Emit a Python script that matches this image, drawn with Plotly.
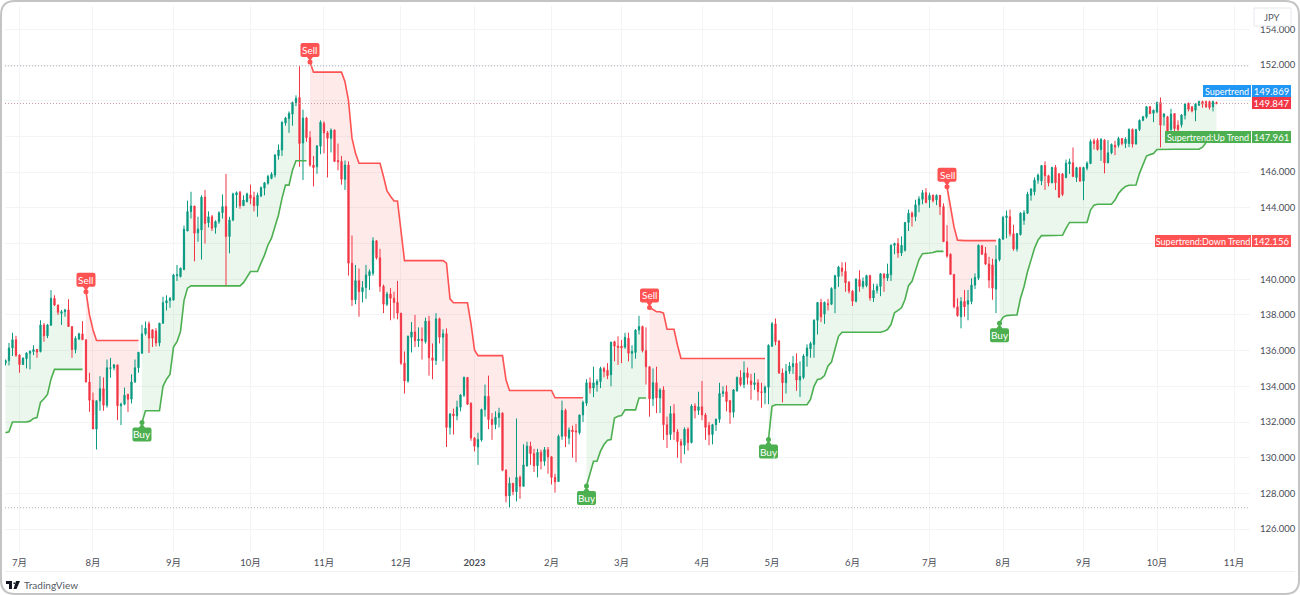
import plotly.graph_objects as go

# -----------------------------
# Data: USD/JPY daily bars
# -----------------------------
opens = [
    135.30, 135.44, 136.15, 136.61, 135.75, 135.22, 135.55, 135.85, 135.95, 136.06,
    135.95, 137.44, 136.83, 137.42, 138.93, 138.56, 138.09, 138.18, 138.28, 137.35,
    136.06, 136.65, 136.94, 136.61, 134.24, 133.22, 131.61, 133.19, 133.87, 132.94,
    135.00, 135.04, 135.20, 132.91, 133.00, 133.56, 133.28, 134.24, 135.04, 135.85,
    136.94, 137.50, 137.17, 137.10, 136.43, 137.54, 138.67, 138.80, 138.84, 140.20,
    140.15, 140.55, 142.70, 143.79, 144.10, 142.60, 142.76, 144.60, 143.17, 143.50,
    142.90, 143.23, 143.73, 144.07, 142.39, 143.32, 144.72, 144.87, 144.12, 144.35,
    144.72, 144.59, 144.12, 144.66, 145.10, 145.38, 145.65, 145.84, 146.92, 147.24,
    148.75, 149.00, 149.25, 149.89, 150.18, 147.63, 149.03, 147.93, 146.40, 146.30,
    147.45, 148.73, 148.20, 147.89, 148.35, 146.65, 146.60, 145.60, 146.40, 140.90,
    138.85, 139.92, 139.30, 139.53, 140.20, 140.33, 142.15, 141.20, 139.60, 138.60,
    139.17, 138.93, 138.70, 138.10, 135.30, 134.30, 136.75, 137.05, 136.55, 136.65,
    136.50, 137.65, 135.60, 135.45, 137.78, 136.75, 136.95, 131.70, 132.45, 132.35,
    132.83, 133.50, 134.50, 133.05, 131.10, 130.60, 131.00, 132.70, 133.44, 132.14,
    131.86, 132.25, 132.50, 129.30, 127.86, 128.57, 128.10, 128.90, 128.40, 129.55,
    130.65, 130.23, 129.55, 130.30, 129.80, 130.45, 130.05, 128.90, 128.67, 131.20,
    132.65, 131.10, 131.55, 131.50, 131.40, 132.40, 133.05, 134.20, 133.90, 134.10,
    134.27, 135.00, 134.90, 134.65, 136.50, 136.25, 136.25, 136.20, 136.70, 135.85,
    135.90, 137.15, 137.35, 136.00, 135.10, 133.30, 134.20, 133.35, 133.80, 131.85,
    131.30, 132.47, 131.45, 130.90, 130.70, 131.60, 130.85, 132.90, 132.65, 132.85,
    132.40, 131.80, 131.30, 131.85, 132.15, 133.60, 133.70, 133.20, 132.55, 133.75,
    134.50, 134.10, 134.75, 134.30, 134.10, 134.20, 133.70, 133.65, 133.95, 136.25,
    137.50, 136.55, 134.75, 134.20, 134.85, 135.10, 135.30, 134.35, 134.50, 135.70,
    136.10, 136.35, 137.70, 138.70, 138.05, 138.63, 138.60, 139.48, 140.15, 140.63,
    140.44, 139.83, 139.33, 138.77, 139.98, 139.60, 139.65, 140.20, 138.95, 139.38,
    139.60, 140.30, 140.07, 140.25, 141.90, 142.00, 141.47, 141.62, 143.18, 143.70,
    143.50, 144.17, 144.48, 144.85, 144.45, 144.70, 144.45, 144.70, 144.07, 142.10,
    141.40, 140.27, 138.46, 137.90, 138.75, 138.60, 138.75, 139.67, 140.05, 141.87,
    141.45, 140.85, 140.80, 139.45, 141.10, 142.25, 143.45, 143.50, 142.55, 141.70,
    142.50, 143.30, 143.70, 144.70, 144.90, 145.55, 145.50, 146.37, 145.80, 145.40,
    146.26, 145.90, 145.90, 145.70, 146.45, 146.52, 145.70, 146.25, 145.50, 146.22,
    146.48, 147.75, 147.79, 147.27, 147.79, 146.52, 147.08, 147.50, 147.50, 147.88,
    147.60, 147.60, 148.39, 147.57, 148.39, 148.90, 149.10, 149.66, 149.30, 149.38,
    149.90, 149.10, 149.10, 148.39, 149.28, 148.63, 148.65, 149.19, 149.85, 149.66,
    149.47, 149.75, 149.95, 149.95, 149.95, 149.66, 149.90,
]
highs = [
    135.50, 136.43, 137.00, 136.83, 135.80, 135.60, 135.90, 136.02, 136.30, 136.10,
    137.70, 137.54, 137.50, 139.39, 139.10, 138.56, 138.28, 138.34, 138.88, 137.35,
    136.80, 137.00, 137.65, 136.61, 134.76, 133.65, 133.19, 134.57, 134.50, 135.50,
    135.59, 135.25, 135.20, 133.09, 133.93, 133.56, 134.67, 135.50, 135.91, 137.44,
    137.63, 137.63, 137.17, 137.26, 137.54, 139.02, 139.10, 139.00, 140.30, 140.80,
    140.65, 143.00, 144.40, 144.90, 144.10, 143.50, 144.70, 145.00, 143.80, 143.60,
    143.30, 143.80, 144.75, 145.90, 143.50, 144.85, 144.92, 144.95, 144.70, 144.85,
    145.30, 144.90, 144.85, 145.20, 145.45, 145.85, 146.00, 147.00, 147.55, 148.85,
    149.10, 149.40, 149.95, 150.30, 151.95, 149.50, 149.10, 148.30, 146.90, 147.50,
    148.90, 148.85, 148.30, 148.45, 148.40, 147.60, 146.90, 146.65, 146.60, 142.45,
    140.80, 140.60, 139.90, 140.80, 140.55, 142.35, 142.20, 141.70, 139.70, 139.30,
    139.50, 139.30, 139.90, 138.10, 135.95, 136.85, 137.60, 138.00, 137.30, 137.30,
    137.85, 137.95, 136.40, 138.10, 137.85, 137.20, 137.25, 132.50, 132.75, 133.20,
    133.55, 134.55, 134.50, 133.10, 131.15, 131.40, 132.75, 134.10, 134.60, 132.50,
    132.60, 132.80, 132.55, 129.35, 128.90, 128.57, 132.20, 129.00, 130.75, 130.90,
    130.90, 130.50, 130.50, 130.45, 130.60, 130.60, 130.10, 129.10, 131.30, 133.20,
    132.75, 131.70, 131.80, 131.90, 132.40, 133.20, 134.40, 134.50, 135.10, 134.40,
    135.10, 135.10, 135.30, 136.50, 136.55, 136.80, 136.60, 137.00, 137.00, 136.30,
    137.20, 137.95, 137.40, 137.30, 135.10, 135.00, 135.10, 133.90, 134.00, 132.30,
    132.90, 133.00, 131.60, 131.05, 131.70, 131.70, 133.00, 133.05, 133.70, 134.30,
    132.50, 132.00, 131.90, 132.20, 134.20, 134.00, 134.05, 133.20, 133.85, 134.55,
    134.90, 135.40, 135.05, 134.70, 134.75, 134.40, 134.20, 134.05, 136.35, 137.60,
    137.80, 136.55, 135.00, 135.25, 135.35, 135.70, 135.85, 135.40, 135.80, 136.35,
    136.50, 137.75, 138.72, 138.90, 138.75, 138.90, 139.55, 140.25, 140.75, 140.95,
    140.95, 139.90, 139.40, 140.05, 140.50, 140.10, 140.25, 140.25, 139.75, 139.75,
    140.35, 140.30, 140.87, 141.95, 142.05, 142.30, 142.40, 143.20, 143.90, 143.80,
    144.45, 144.65, 145.00, 145.10, 144.85, 144.75, 144.75, 144.70, 144.25, 143.03,
    141.45, 140.27, 138.93, 139.00, 139.40, 139.40, 140.05, 140.33, 141.95, 141.92,
    141.80, 141.25, 141.15, 141.90, 142.30, 143.55, 143.85, 143.90, 143.05, 142.60,
    143.75, 143.87, 144.90, 145.10, 145.70, 145.92, 146.40, 146.60, 145.85, 146.30,
    146.40, 145.95, 145.95, 146.70, 146.75, 147.38, 146.30, 146.30, 146.30, 146.60,
    147.83, 147.88, 147.90, 147.90, 147.85, 147.79, 147.60, 147.75, 147.98, 147.90,
    147.95, 148.45, 148.45, 148.42, 148.95, 149.15, 149.70, 149.70, 149.50, 149.95,
    150.18, 149.30, 149.15, 149.55, 149.30, 148.90, 149.25, 149.85, 149.90, 149.70,
    149.85, 150.00, 150.00, 150.00, 150.00, 150.00, 149.95,
]
lows = [
    135.17, 135.17, 135.70, 135.65, 134.76, 135.22, 135.00, 134.95, 135.75, 135.60,
    135.90, 136.50, 136.70, 137.40, 138.50, 138.00, 137.44, 137.90, 137.35, 135.60,
    135.85, 136.60, 136.60, 134.24, 132.57, 131.61, 130.46, 132.63, 132.63, 132.81,
    134.48, 134.90, 132.11, 131.83, 132.94, 132.57, 133.04, 134.20, 134.76, 135.83,
    136.85, 135.87, 136.20, 136.24, 136.24, 137.50, 138.25, 138.40, 138.80, 139.90,
    140.10, 140.50, 142.70, 143.40, 141.00, 142.10, 141.10, 142.00, 142.90, 142.70,
    142.55, 143.10, 143.40, 139.60, 141.45, 143.25, 144.00, 143.95, 144.10, 144.30,
    144.20, 143.80, 143.50, 144.60, 144.70, 145.30, 145.60, 145.70, 146.70, 146.90,
    148.60, 148.20, 148.60, 149.70, 146.30, 145.56, 147.70, 146.30, 145.20, 145.90,
    147.00, 147.05, 145.70, 147.10, 146.58, 146.10, 145.30, 145.00, 140.20, 138.50,
    138.60, 137.90, 138.70, 138.90, 139.40, 140.20, 141.10, 139.30, 138.10, 138.50,
    137.70, 137.80, 137.75, 135.20, 133.60, 134.20, 135.90, 136.20, 136.20, 135.50,
    136.40, 134.60, 134.40, 135.20, 136.40, 135.40, 130.60, 131.30, 131.30, 132.10,
    132.60, 133.40, 132.95, 130.95, 130.35, 129.60, 130.90, 132.30, 131.60, 131.00,
    131.60, 131.70, 129.25, 127.50, 127.20, 127.90, 127.55, 127.70, 128.40, 129.50,
    129.60, 129.20, 128.90, 129.35, 129.55, 129.10, 128.50, 128.05, 128.65, 131.00,
    130.60, 130.75, 130.00, 129.75, 131.30, 132.00, 132.90, 133.60, 133.40, 133.70,
    133.90, 134.50, 134.40, 134.00, 135.40, 135.20, 135.30, 136.10, 135.40, 135.00,
    135.55, 136.90, 135.90, 134.10, 132.30, 132.90, 132.50, 132.50, 131.00, 130.55,
    131.00, 131.00, 130.00, 129.70, 130.20, 130.40, 130.80, 132.20, 132.40, 132.10,
    131.00, 130.70, 130.75, 131.50, 131.95, 133.40, 132.60, 131.90, 132.25, 133.70,
    134.00, 133.90, 134.10, 133.25, 133.80, 133.20, 132.80, 133.00, 133.00, 136.20,
    136.30, 134.70, 133.10, 133.60, 134.70, 134.70, 133.75, 133.40, 134.40, 135.10,
    135.60, 135.60, 136.90, 137.60, 137.50, 138.25, 138.55, 138.10, 139.57, 140.16,
    139.30, 139.20, 138.50, 138.70, 139.30, 139.47, 139.55, 138.80, 138.73, 139.20,
    139.05, 139.30, 139.90, 139.90, 141.40, 141.20, 141.30, 141.55, 142.70, 142.95,
    143.25, 143.75, 144.20, 144.25, 144.00, 144.30, 144.15, 143.60, 142.10, 141.20,
    140.25, 138.37, 137.90, 137.25, 137.90, 137.70, 138.60, 139.45, 139.95, 141.35,
    140.80, 139.50, 138.85, 138.10, 141.00, 142.20, 142.30, 142.40, 141.60, 141.55,
    142.45, 143.05, 143.65, 144.40, 144.70, 145.35, 145.27, 145.00, 145.20, 145.38,
    145.00, 144.55, 144.65, 145.65, 145.90, 145.75, 145.45, 145.45, 144.43, 146.10,
    146.45, 147.27, 147.20, 146.63, 145.93, 146.50, 147.00, 146.95, 147.38, 147.50,
    147.35, 147.40, 147.38, 147.55, 148.30, 148.85, 149.00, 149.25, 148.80, 149.30,
    147.38, 148.60, 148.20, 148.30, 148.30, 148.00, 148.50, 148.95, 149.40, 149.35,
    148.85, 149.70, 149.60, 149.60, 149.50, 149.40, 149.80,
]
closes = [
    135.45, 136.15, 136.61, 135.74, 135.22, 135.59, 135.87, 135.96, 136.06, 135.92,
    137.44, 136.83, 137.44, 138.93, 138.56, 138.15, 138.18, 138.28, 137.35, 136.06,
    136.69, 136.94, 136.61, 134.24, 133.22, 131.61, 133.19, 133.87, 132.94, 135.04,
    135.04, 135.20, 132.91, 133.00, 133.50, 133.28, 134.24, 135.04, 135.91, 136.94,
    137.26, 136.70, 136.70, 136.43, 137.54, 138.69, 138.80, 138.93, 140.24, 140.25,
    140.62, 142.80, 143.79, 144.10, 142.57, 142.80, 144.60, 143.13, 143.50, 142.85,
    143.23, 143.73, 144.07, 142.39, 143.32, 144.78, 144.85, 144.12, 144.44, 144.78,
    144.53, 144.12, 144.70, 145.13, 145.40, 145.75, 145.88, 146.96, 147.24, 148.79,
    149.03, 149.29, 149.90, 150.13, 147.60, 149.03, 147.93, 146.40, 146.25, 147.47,
    148.79, 148.20, 147.89, 148.35, 146.60, 146.58, 145.60, 146.40, 140.90, 138.85,
    139.92, 139.30, 139.53, 140.24, 140.43, 142.15, 141.20, 139.60, 138.60, 139.17,
    138.93, 138.70, 138.10, 135.30, 134.30, 136.80, 137.05, 136.55, 136.65, 136.55,
    137.65, 135.60, 135.45, 137.78, 136.75, 136.95, 131.70, 132.45, 132.35, 132.83,
    133.52, 134.50, 133.00, 131.10, 130.65, 131.02, 132.70, 133.44, 132.14, 131.86,
    132.27, 132.50, 129.30, 127.86, 128.57, 128.10, 128.90, 128.40, 129.60, 130.65,
    130.23, 129.55, 130.30, 129.80, 130.45, 130.05, 128.90, 128.65, 131.20, 132.65,
    131.20, 131.55, 131.45, 131.45, 132.40, 133.10, 134.20, 133.90, 134.20, 134.27,
    135.00, 134.83, 134.60, 136.47, 136.25, 136.18, 136.15, 136.75, 135.85, 135.95,
    137.15, 137.35, 136.00, 135.10, 133.30, 134.20, 133.35, 133.80, 131.85, 131.30,
    132.47, 131.45, 130.90, 130.70, 131.60, 130.85, 132.90, 132.65, 132.85, 132.40,
    131.70, 131.30, 131.85, 132.15, 133.60, 133.70, 133.15, 132.55, 133.80, 134.50,
    134.10, 134.75, 134.50, 134.10, 134.20, 133.70, 133.65, 133.95, 136.30, 137.50,
    136.50, 134.75, 134.20, 134.85, 135.14, 135.27, 134.35, 134.55, 135.70, 136.15,
    136.40, 137.70, 138.70, 137.90, 138.70, 138.58, 139.48, 140.20, 140.68, 140.44,
    139.80, 139.33, 138.77, 140.00, 139.60, 139.88, 140.20, 138.95, 139.38, 139.60,
    140.30, 140.07, 140.30, 141.90, 142.00, 141.47, 141.90, 143.18, 143.70, 143.50,
    144.17, 144.50, 144.85, 144.30, 144.70, 144.40, 144.70, 144.07, 142.10, 141.30,
    140.27, 138.46, 137.96, 138.75, 138.45, 138.80, 139.67, 140.10, 141.90, 141.40,
    140.85, 139.95, 139.50, 141.10, 142.25, 143.46, 143.55, 142.55, 141.70, 142.55,
    143.70, 143.72, 144.77, 145.05, 145.55, 145.83, 146.37, 145.80, 145.40, 146.26,
    145.40, 144.60, 144.75, 146.50, 146.58, 145.75, 146.25, 145.50, 146.26, 146.50,
    147.72, 147.60, 147.27, 147.83, 146.52, 147.08, 147.55, 147.40, 147.88, 147.60,
    147.85, 148.39, 147.57, 148.39, 148.90, 149.10, 149.66, 149.28, 149.47, 149.90,
    148.63, 149.25, 148.26, 149.25, 148.44, 148.39, 149.19, 149.81, 149.52, 149.43,
    149.81, 149.95, 149.81, 149.66, 149.62, 149.95, 149.85,
]

# Supertrend stretches as (first bar, values)
up_segments = [
    (0, [131.40, 131.45, 132.00, 132.00, 132.00, 132.00, 132.00, 132.05, 132.20, 132.25,
         133.10, 133.30, 133.55, 134.40, 134.95, 134.95, 134.95, 134.95, 134.95, 134.95,
         134.95, 134.95, 134.95]),
    (39, [131.98, 132.63, 132.63, 132.63, 132.63, 132.63, 134.00, 134.40, 134.67, 136.20,
          136.50, 137.07, 138.80, 139.50, 139.63, 139.63, 139.63, 139.63, 139.63, 139.63,
          139.63, 139.63, 139.63, 139.63, 139.63, 139.63, 139.63, 139.63, 139.63, 139.81,
          140.15, 140.43, 140.43, 140.43, 140.90, 141.35, 141.92, 142.30, 142.95, 143.60,
          144.53, 145.27, 145.27, 146.10, 146.64, 146.64, 146.64, 146.64]),
    (166, [128.42, 129.16, 129.80, 129.80, 130.37, 130.74, 130.98, 131.02, 132.23, 132.32,
           132.36, 132.68, 132.68, 132.68, 132.68, 133.35, 133.35, 133.35]),
    (218, [131.02, 132.88, 132.97, 132.97, 132.97, 132.97, 132.97, 132.97, 132.97, 132.97,
           132.97, 132.97, 133.27, 134.00, 134.39, 134.43, 134.60, 135.14, 135.36, 136.07,
           136.80, 137.03, 137.03, 137.03, 137.03, 137.03, 137.03, 137.03, 137.03, 137.03,
           137.03, 137.03, 137.03, 137.08, 137.18, 137.46, 138.12, 138.25, 138.40, 138.86,
           139.64, 139.88, 140.54, 141.10, 141.43, 141.47, 141.47, 141.50, 141.56, 141.56,
           141.56]),
    (284, [137.53, 137.87, 137.96, 138.00, 138.00, 138.00, 138.93, 139.58, 140.42, 141.07,
           141.73, 142.19, 142.44, 142.44, 142.44, 142.44, 142.44, 142.44, 142.46, 142.85,
           143.18, 143.18, 143.18, 143.18, 143.18, 143.18, 143.87, 144.15, 144.20, 144.20,
           144.20, 144.20, 144.20, 144.43, 144.80, 145.03, 145.20, 145.26, 145.26, 145.28,
           145.93, 146.40, 146.90, 146.98, 147.04, 147.27, 147.28, 147.28, 147.28, 147.28,
           147.28, 147.28, 147.28, 147.28, 147.28, 147.28, 147.28, 147.28, 147.40, 147.65,
           147.90, 147.96, 147.96]),
]
down_segments = [
    (23, [139.30, 138.00, 137.17, 136.57, 136.57, 136.57, 136.57, 136.57, 136.57, 136.57,
          136.57, 136.57, 136.57, 136.57, 136.57, 136.57]),
    (87, [152.17, 151.60, 151.60, 151.60, 151.60, 151.60, 151.60, 151.60, 151.60, 151.60,
          151.06, 150.00, 147.90, 147.05, 146.50, 146.50, 146.50, 146.50, 146.50, 146.50,
          146.50, 145.75, 144.95, 144.65, 144.38, 144.38, 142.70, 141.04, 141.04, 141.04,
          141.04, 141.04, 141.04, 141.04, 141.04, 141.04, 141.04, 141.04, 141.04, 140.90,
          138.90, 138.68, 138.68, 138.68, 138.68, 138.68, 137.50, 136.04, 135.72, 135.72,
          135.72, 135.72, 135.72, 135.72, 135.72, 135.72, 134.37, 133.77, 133.77, 133.77,
          133.77, 133.77, 133.77, 133.77, 133.77, 133.77, 133.77, 133.77, 133.77, 133.77,
          133.36, 133.36, 133.36, 133.36, 133.36, 133.36, 133.36, 133.36, 133.36]),
    (184, [138.42, 138.30, 138.18, 138.18, 138.10, 137.20, 137.20, 137.20, 136.30, 135.56,
           135.56, 135.56, 135.56, 135.56, 135.56, 135.56, 135.56, 135.56, 135.56, 135.56,
           135.56, 135.56, 135.56, 135.56, 135.56, 135.56, 135.56, 135.56, 135.56, 135.56,
           135.56, 135.56, 135.56, 135.56]),
    (269, [145.18, 144.00, 142.94, 142.19, 142.16, 142.16, 142.16, 142.16, 142.16, 142.16,
           142.16, 142.16, 142.16, 142.16, 142.16]),
]

month_bars = [4, 25, 48, 70, 91, 113, 134, 156, 176, 199, 219, 242, 264, 285, 308, 329, 351]
month_labels = ["7月", "8月", "9月", "10月", "11月", "12月", "<b>2023</b>", "2月", "3月", "4月",
                "5月", "6月", "7月", "8月", "9月", "10月", "11月"]
price_ticks = list(range(126, 156, 2))
# these sit behind the price tags in the picture
hidden_ticks = [142, 148, 150]

period_high = 151.95
period_low = 127.20
last_price = 149.847
supertrend_now = 149.869
up_trend_now = 147.961
down_trend_now = 142.156

UP_COLOR = "#089981"
DOWN_COLOR = "#F23645"
TREND_UP = "#4CAF50"
TREND_DOWN = "#FF5252"
TREND_BLUE = "#2196F3"
FONT = "Lato, Noto Sans CJK JP, sans-serif"

# Page geometry
WIDTH, HEIGHT = 1300, 595
M_LEFT, M_RIGHT, M_TOP, M_BOTTOM = 5, 50, 6, 43
plot_w = WIDTH - M_LEFT - M_RIGHT
plot_h = HEIGHT - M_TOP - M_BOTTOM


def paper_x(px):
    return (px - M_LEFT) / plot_w


def paper_y(py):
    return 1 - (py - M_TOP) / plot_h


bars = list(range(len(closes)))
mids = [(o + c) / 2 for o, c in zip(opens, closes)]

fig = go.Figure()

# -----------------------------
# Fills between the trend line and the candle bodies
# -----------------------------
for segments, fill in ((up_segments, "rgba(76,175,80,0.11)"), (down_segments, "rgba(255,82,82,0.12)")):
    for start, values in segments:
        xs = bars[start:start + len(values)]
        fig.add_trace(go.Scatter(
            x=xs + xs[::-1],
            y=values + mids[start:start + len(values)][::-1],
            mode="none", fill="toself", fillcolor=fill,
            hoverinfo="skip", showlegend=False, zorder=0,
        ))

fig.add_trace(go.Candlestick(
    x=bars, open=opens, high=highs, low=lows, close=closes,
    increasing=dict(line=dict(color=UP_COLOR, width=1), fillcolor=UP_COLOR),
    decreasing=dict(line=dict(color=DOWN_COLOR, width=1), fillcolor=DOWN_COLOR),
    whiskerwidth=0, showlegend=False, zorder=1,
))

# -----------------------------
# Trend lines and signal dots
# -----------------------------
for segments, color in ((up_segments, TREND_UP), (down_segments, TREND_DOWN)):
    for start, values in segments:
        fig.add_trace(go.Scatter(
            x=bars[start:start + len(values)], y=values,
            mode="lines", line=dict(color=color, width=1.6),
            hoverinfo="skip", showlegend=False, zorder=2,
        ))
        # first stretch of the uptrend has no signal
        if start == 0:
            continue
        fig.add_trace(go.Scatter(
            x=[start], y=[values[0]], mode="markers",
            marker=dict(color=color, size=5),
            hoverinfo="skip", showlegend=False, zorder=2,
        ))


def tag_path(direction):
    # rounded box with a small pointer, in pixels from the signal point
    hw, near, far, r = 9.5, 5 * direction, 19 * direction, 2 * direction
    return (
        f"M -3 {near} L 0 {direction} L 3 {near} L {hw - 2} {near} Q {hw} {near} {hw} {near + r} "
        f"L {hw} {far - r} Q {hw} {far} {hw - 2} {far} L {-hw + 2} {far} Q {-hw} {far} {-hw} {far - r} "
        f"L {-hw} {near + r} Q {-hw} {near} {-hw + 2} {near} Z"
    )


for segments, color, label, direction in (
    (up_segments[1:], TREND_UP, "Buy", -1),
    (down_segments, TREND_DOWN, "Sell", 1),
):
    for start, values in segments:
        fig.add_shape(
            type="path", path=tag_path(direction),
            xref="x", yref="y", xsizemode="pixel", ysizemode="pixel",
            xanchor=start, yanchor=values[0],
            fillcolor=color, line=dict(width=0), layer="above",
        )
        fig.add_annotation(
            x=start, y=values[0], yshift=12 * direction, text=label, showarrow=False,
            font=dict(family=FONT, size=10, color="white"),
        )

# -----------------------------
# Dotted high, low and last price lines
# -----------------------------
for price, color in ((period_high, "#a9acb4"), (period_low, "#a9acb4"), (last_price, "rgba(196,140,146,0.9)")):
    fig.add_shape(
        type="line", xref="paper", yref="y", x0=0, x1=1, y0=price, y1=price,
        line=dict(color=color, width=1, dash="1px,2px"), layer="above",
    )

# -----------------------------
# Price scale tags
# -----------------------------
for price, shift, text, color in (
    (supertrend_now, 12, f"{supertrend_now:.3f}", TREND_BLUE),
    (last_price, 0, f"{last_price:.3f}", DOWN_COLOR),
    (up_trend_now, 0, f"{up_trend_now:.3f}", TREND_UP),
    (down_trend_now, 0, f"{down_trend_now:.3f}", TREND_DOWN),
):
    fig.add_annotation(
        x=paper_x(1252), xref="paper", xanchor="left", y=price, yref="y", yanchor="middle", yshift=shift,
        text=text, showarrow=False, width=37, height=10, borderpad=1, borderwidth=0, bgcolor=color,
        font=dict(family=FONT, size=9.5, color="white"), align="center",
    )

for price, shift, text, color, box_w in (
    (supertrend_now, 12, "Supertrend", TREND_BLUE, 46),
    (up_trend_now, 0, "Supertrend:Up Trend", TREND_UP, 84),
    (down_trend_now, 0, "Supertrend:Down Trend", TREND_DOWN, 94),
):
    fig.add_annotation(
        x=paper_x(1251), xref="paper", xanchor="right", y=price, yref="y", yanchor="middle", yshift=shift,
        text=text, showarrow=False, width=box_w, height=10, borderpad=1, borderwidth=0, bgcolor=color,
        font=dict(family=FONT, size=9, color="white"), align="center",
    )

# Currency button
fig.add_shape(
    type="rect", xref="paper", yref="paper",
    x0=paper_x(1254), x1=paper_x(1291), y0=paper_y(26), y1=paper_y(8),
    fillcolor="white", line=dict(color="#e6e8ee", width=1), layer="above",
)
fig.add_annotation(
    x=paper_x(1272), y=paper_y(17), xref="paper", yref="paper", xanchor="center", yanchor="middle",
    text="JPY", showarrow=False, font=dict(family=FONT, size=9.5, color="#555963"),
)

# Line under the time scale and page frame
fig.add_shape(
    type="line", xref="paper", yref="paper",
    x0=paper_x(5), x1=paper_x(1295), y0=paper_y(571.5), y1=paper_y(571.5),
    line=dict(color="#eef0f3", width=1), layer="above",
)
fig.add_shape(
    type="path", xref="paper", yref="paper",
    xsizemode="pixel", ysizemode="pixel", xanchor=paper_x(0), yanchor=paper_y(0),
    path=(
        "M 15 -1 L 1285 -1 Q 1299 -1 1299 -15 L 1299 -580 Q 1299 -594 1285 -594 "
        "L 15 -594 Q 1 -594 1 -580 L 1 -15 Q 1 -1 15 -1 Z"
    ),
    line=dict(color="#c4c4c4", width=2), fillcolor="rgba(0,0,0,0)", layer="above",
)

# TradingView logo
fig.add_shape(
    type="path", xref="paper", yref="paper",
    xsizemode="pixel", ysizemode="pixel", xanchor=paper_x(6), yanchor=paper_y(581),
    path=(
        "M 0 0 L 6 0 L 6 -8 L 3 -8 L 3 -3 L 0 -3 Z "
        "M 7.5 -1.5 L 9 -1.5 L 9 -3 L 7.5 -3 Z "
        "M 10 0 L 14 0 L 10.5 -8 L 7.5 -8 Z"
    ),
    fillcolor="#131722", line=dict(width=0), layer="above",
)
fig.add_annotation(
    x=paper_x(22), y=paper_y(585), xref="paper", yref="paper", xanchor="left", yanchor="middle",
    text="TradingView", showarrow=False, font=dict(family=FONT, size=10, color="#555963"),
)

fig.update_layout(
    width=WIDTH, height=HEIGHT,
    margin=dict(l=M_LEFT, r=M_RIGHT, t=M_TOP, b=M_BOTTOM, pad=0),
    paper_bgcolor="white", plot_bgcolor="white",
    boxgap=0.5, showlegend=False, hovermode=False,
    font=dict(family=FONT, size=9.5, color="#4a4d57"),
)
fig.update_xaxes(
    range=[-0.14, 355.57], rangeslider_visible=False,
    tickmode="array", tickvals=month_bars, ticktext=month_labels,
    showgrid=True, gridcolor="#f3f4f6", gridwidth=1,
    ticks="outside", ticklen=2, tickcolor="rgba(0,0,0,0)",
    zeroline=False, showline=False,
)
fig.update_yaxes(
    side="right", range=[124.72, 155.305],
    tickmode="array", tickvals=price_ticks,
    ticktext=["" if p in hidden_ticks else f"{p:.3f}" for p in price_ticks],
    showgrid=True, gridcolor="#f3f4f6", gridwidth=1,
    ticks="outside", ticklen=7, tickcolor="rgba(0,0,0,0)",
    zeroline=False, showline=False,
)

fig.write_html("out.html", config={"displayModeBar": False}, post_script="document.body.style.margin='0';")
